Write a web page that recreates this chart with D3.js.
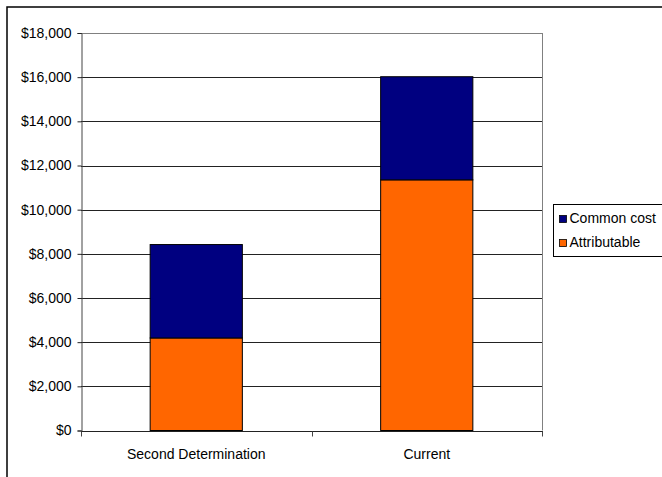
<!DOCTYPE html>
<html>
<head>
<meta charset="utf-8">
<script src="https://cdn.jsdelivr.net/npm/d3@7"></script>
<style>
  body { margin: 0; background: #fff; }
  text { font-family: "Liberation Sans", Arial, sans-serif; font-size: 14px; fill: #000; }
</style>
</head>
<body>
<div class="canvas"></div>
<script>
// data
let categories = ['Second Determination', 'Current']
let attributable = [4190, 11350]
let commonCost = [4230, 4670]
let seriesNames = ['Common cost', 'Attributable']
let seriesColors = ['#000080', '#ff6600']
let yTicks = [0, 2000, 4000, 6000, 8000, 10000, 12000, 14000, 16000, 18000]

let width = 662,
    height = 477,
    plot = { left: 81, right: 542, top: 33, bottom: 430.5 }

let svg = d3.select('.canvas').append('svg')
    .attr('width', width)
    .attr('height', height)

// outer chart border (runs off the right and bottom of the picture)
svg.append('rect')
    .attr('x', 7).attr('y', 7)
    .attr('width', 700).attr('height', 500)
    .attr('fill', 'none')
    .attr('stroke', '#000')
    .attr('stroke-width', 1.5)

let x = d3.scaleBand()
    .domain(categories)
    .range([plot.left, plot.right])
    .paddingInner(0.6)
    .paddingOuter(0.3)

let y = d3.scaleLinear()
    .domain([0, 18000])
    .range([plot.bottom, plot.top])

// gridlines
svg.append('g')
    .selectAll('line')
    .data(yTicks.filter(d => d > 0))
    .enter().append('line')
    .attr('x1', plot.left).attr('x2', plot.right)
    .attr('y1', d => Math.round(y(d)) + 0.5)
    .attr('y2', d => Math.round(y(d)) + 0.5)
    .attr('stroke', d => d === 18000 ? '#808080' : '#222')
    .attr('stroke-width', 1)

// right frame of plot
svg.append('line')
    .attr('x1', plot.right + 0.5).attr('x2', plot.right + 0.5)
    .attr('y1', plot.top).attr('y2', plot.bottom)
    .attr('stroke', '#808080')

// stacked bars
let stack = categories.map((c, i) => ({
    cat: c,
    parts: [
        { key: 'Attributable', y0: 0, y1: attributable[i] },
        { key: 'Common cost', y0: attributable[i], y1: attributable[i] + commonCost[i] }
    ]
}))

let colour = d3.scaleOrdinal().domain(seriesNames).range(seriesColors)

svg.append('g').selectAll('g')
    .data(stack)
    .enter().append('g')
    .selectAll('rect')
    .data(d => d.parts.map(p => Object.assign({ cat: d.cat }, p)))
    .enter().append('rect')
    .attr('x', d => x(d.cat))
    .attr('width', x.bandwidth())
    .attr('y', d => y(d.y1))
    .attr('height', d => y(d.y0) - y(d.y1))
    .attr('fill', d => colour(d.key))
    .attr('stroke', '#000')
    .attr('stroke-width', 1)

// y axis
let yAxis = svg.append('g')
    .attr('transform', `translate(${plot.left + 0.5}, 0)`)
    .call(d3.axisLeft(y).tickValues(yTicks).tickSize(4).tickPadding(6)
        .tickFormat(d => '$' + d3.format(',')(d)))
yAxis.select('.domain').attr('stroke', '#444')
yAxis.selectAll('.tick line').attr('stroke', '#222')
yAxis.selectAll('text')
    .style('font-family', '"Liberation Sans", Arial, sans-serif')
    .style('font-size', '14px')
    .attr('fill', '#000')

// x axis: ticks sit on category boundaries
let xg = svg.append('g')
    .attr('transform', `translate(0, ${Math.round(plot.bottom) + 0.5})`)
xg.append('line')
    .attr('x1', plot.left).attr('x2', plot.right + 1)
    .attr('stroke', '#222')
xg.selectAll('.bound')
    .data([plot.left, (x(categories[0]) + x.bandwidth() + x(categories[1])) / 2, plot.right])
    .enter().append('line')
    .attr('x1', d => Math.round(d) + 0.5).attr('x2', d => Math.round(d) + 0.5)
    .attr('y1', 0).attr('y2', 5)
    .attr('stroke', '#444')
xg.selectAll('.lab')
    .data(categories)
    .enter().append('text')
    .attr('x', d => x(d) + x.bandwidth() / 2)
    .attr('y', 27)
    .attr('text-anchor', 'middle')
    .text(d => d)

// legend (box runs past the right edge of the picture)
let legend = svg.append('g').attr('transform', 'translate(553.5, 204.5)')
legend.append('rect')
    .attr('width', 140).attr('height', 52)
    .attr('fill', '#fff')
    .attr('stroke', '#000')
legend.selectAll('.item')
    .data(seriesNames)
    .enter().append('g')
    .attr('transform', (d, i) => `translate(6, ${11 + i * 24})`)
    .each(function (d) {
        let g = d3.select(this)
        g.append('rect')
            .attr('width', 7).attr('height', 7)
            .attr('fill', colour(d))
            .attr('stroke', '#000')
            .attr('stroke-width', 0.8)
        g.append('text')
            .attr('x', 10).attr('y', 7.5)
            .text(d)
    })
</script>
</body>
</html>
